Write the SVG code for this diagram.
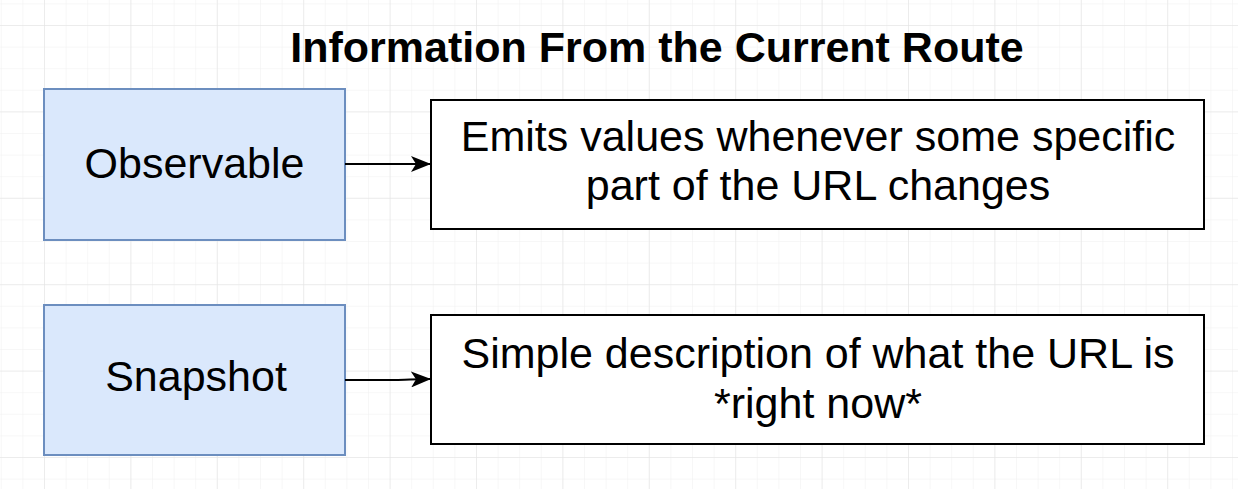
<svg xmlns="http://www.w3.org/2000/svg" width="1238" height="489" viewBox="0 0 1238 489">
<defs>
<pattern id="minor" x="0.8" y="3.4" width="21.6" height="21.6" patternUnits="userSpaceOnUse">
<path d="M0 0H21.6M0 0V21.6" fill="none" stroke="#f0f0f0" stroke-width="1"/>
</pattern>
<pattern id="major" x="44" y="25" width="86.4" height="86.4" patternUnits="userSpaceOnUse">
<path d="M0 0H86.4M0 0V86.4" fill="none" stroke="#e2e2e2" stroke-width="1"/>
</pattern>
<marker id="arr" viewBox="0 0 20 16" refX="19" refY="8" markerWidth="20" markerHeight="16" markerUnits="userSpaceOnUse" orient="auto">
<path d="M0 0L20 8L0 16L5 8Z" fill="#000"/>
</marker>
</defs>
<style>
.blue{fill:#dae8fc;stroke:#6c8ebf;stroke-width:2}
.white{fill:#ffffff;stroke:#000000;stroke-width:2}
.t{font-family:"Liberation Sans",Arial,sans-serif;font-size:43px;fill:#000;text-anchor:middle}
.title{font-family:"Liberation Sans",Arial,sans-serif;font-size:43px;font-weight:bold;fill:#000;text-anchor:middle}
.conn{fill:none;stroke:#000;stroke-width:2}
</style>
<rect width="1238" height="489" fill="#ffffff"/>
<rect width="1238" height="489" fill="url(#minor)"/>
<rect width="1238" height="489" fill="url(#major)"/>
<g id="title"><text class="title" x="657" y="62">Information From the Current Route</text></g>
<g id="observable"><rect class="blue" x="44" y="89" width="301" height="151"/><text class="t" x="194.5" y="178">Observable</text></g>
<g id="emits"><rect class="white" x="431" y="100" width="773" height="129"/><text class="t" x="818" y="151">Emits values whenever some specific</text><text class="t" x="818" y="200">part of the URL changes</text></g>
<g id="snapshot"><rect class="blue" x="44" y="305" width="301" height="150"/><text class="t" x="196" y="391">Snapshot</text></g>
<g id="simple"><rect class="white" x="431" y="315" width="773" height="129"/><text class="t" x="818" y="368">Simple description of what the URL is</text><text class="t" x="818" y="418">*right now*</text></g>
<g id="connectors">
<path class="conn" d="M345 164H430" marker-end="url(#arr)"/>
<path class="conn" d="M345 380C380 380 395 380.5 410 379.5L430 379" marker-end="url(#arr)"/>
</g>
</svg>
